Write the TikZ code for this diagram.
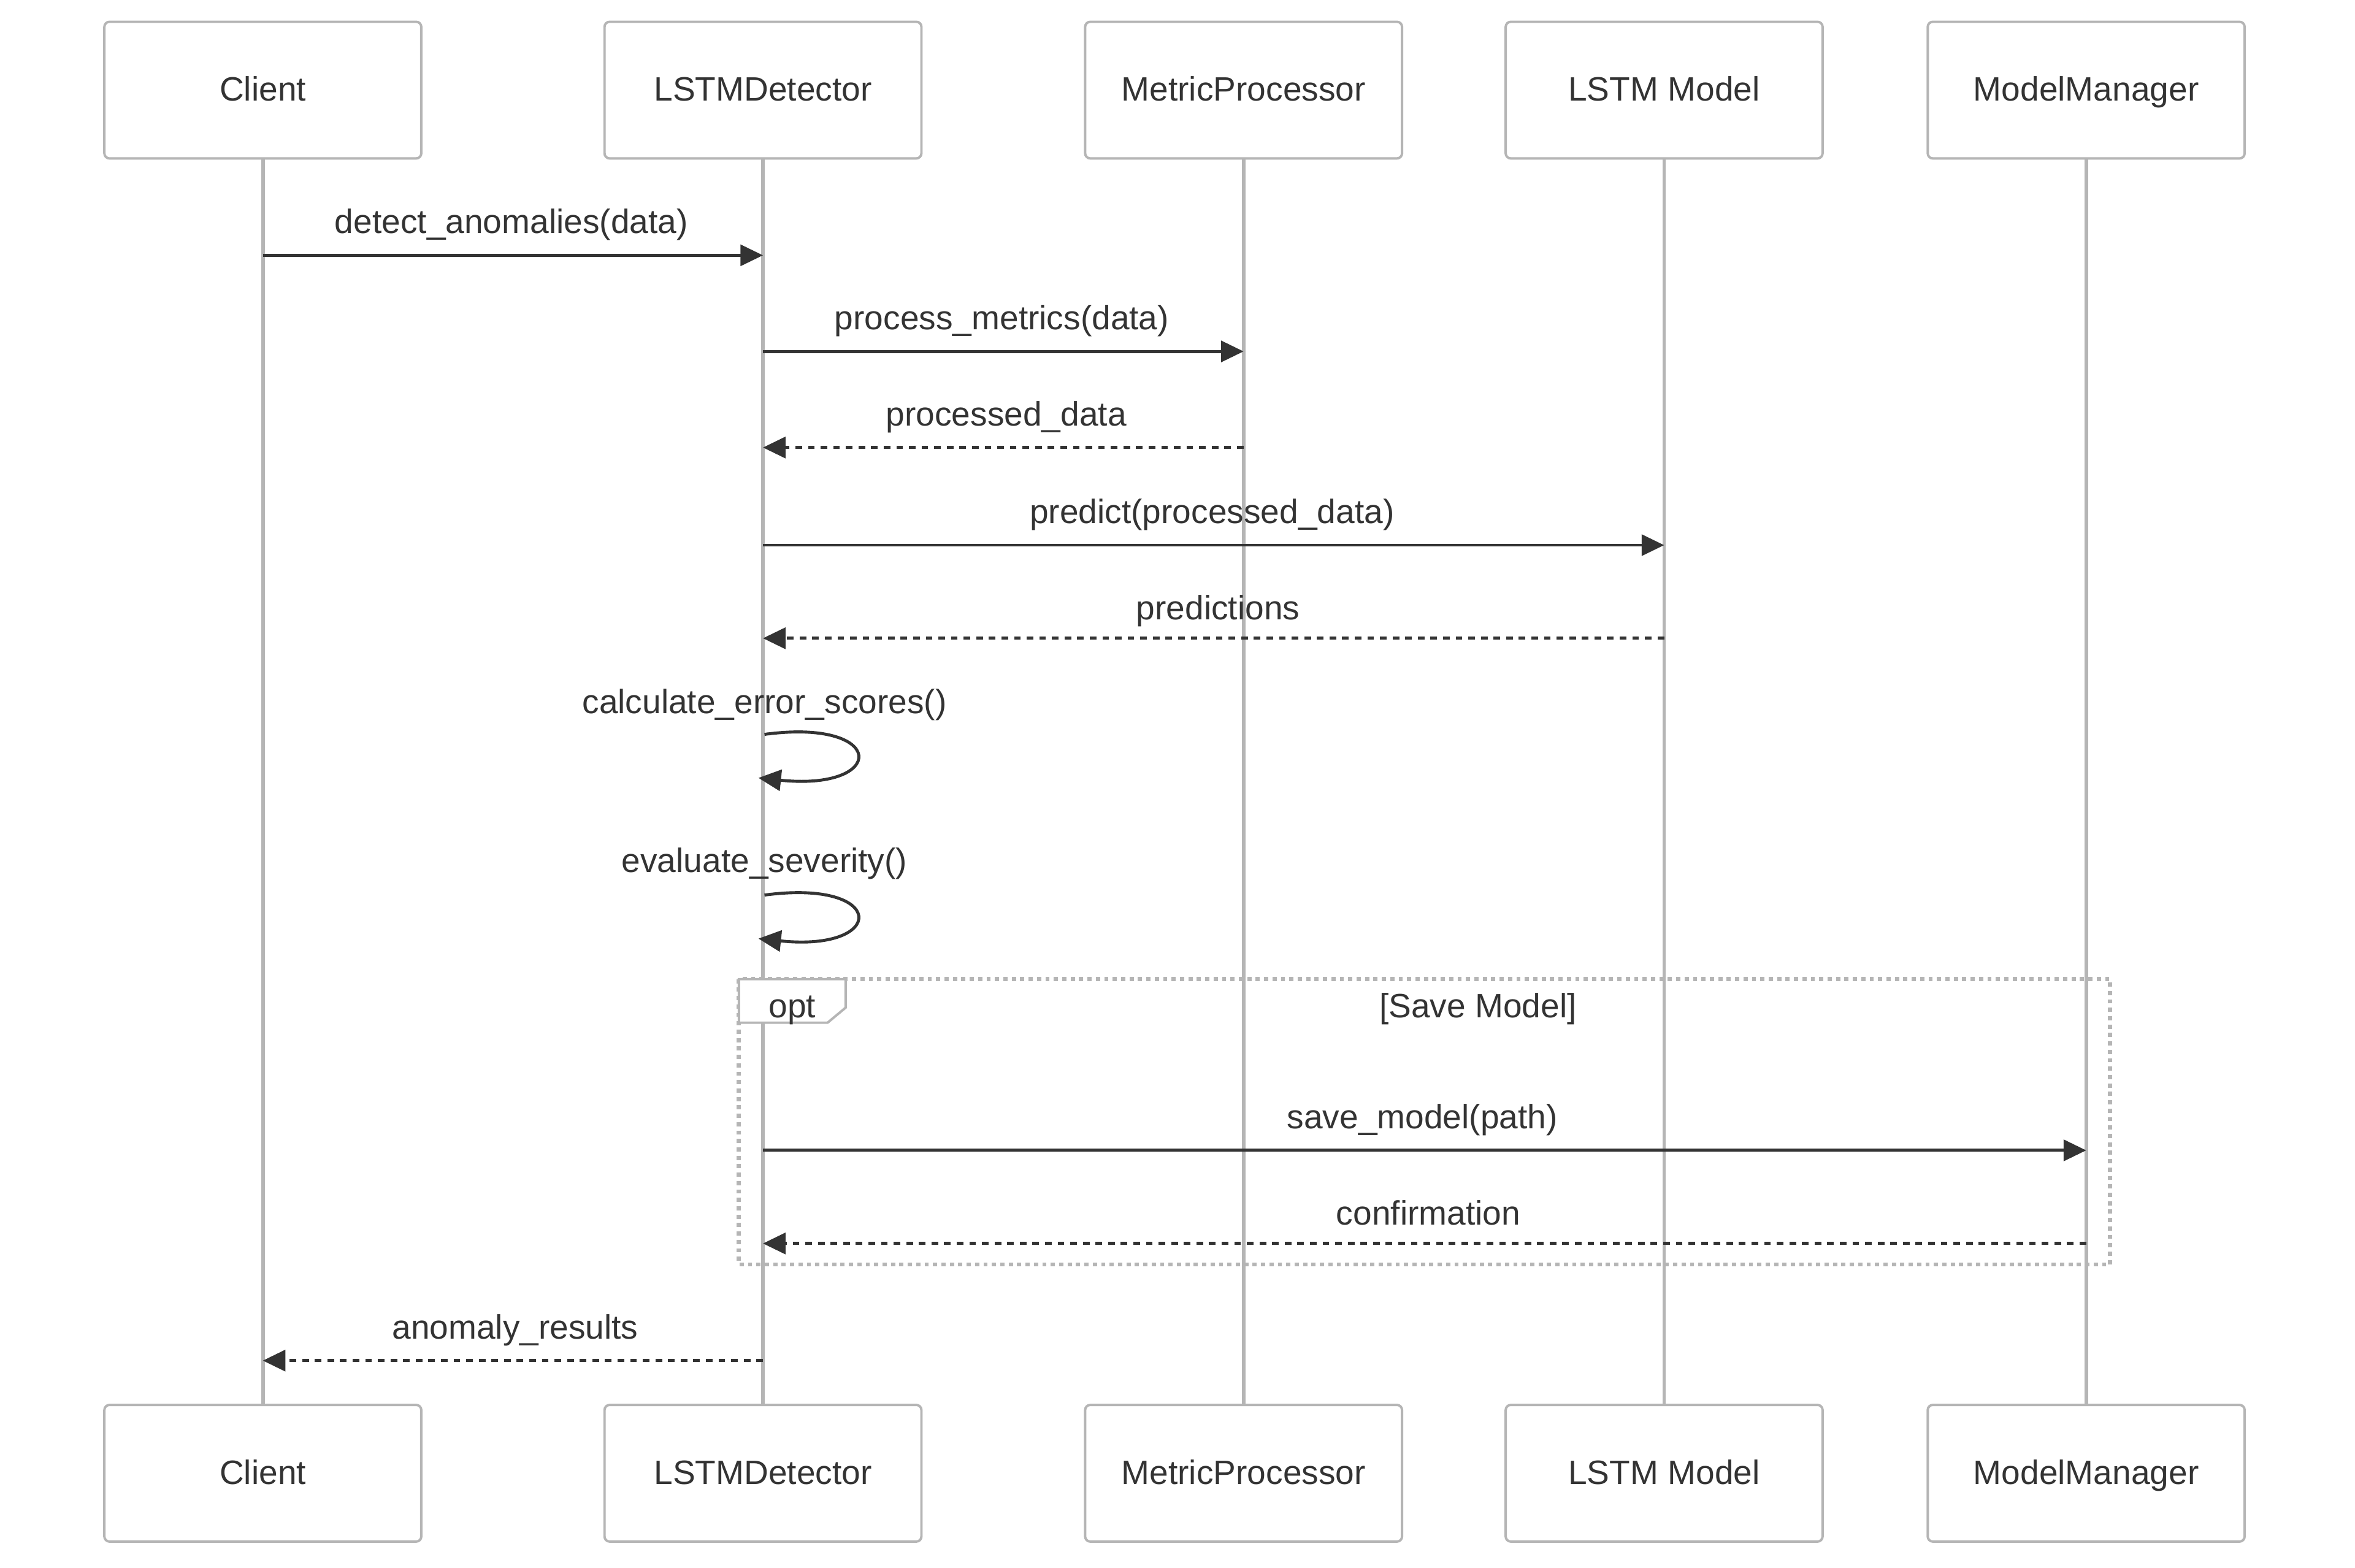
\documentclass[tikz,border=0pt]{standalone}
\usepackage{fontspec}
\setmainfont{Liberation Sans}
\usetikzlibrary{arrows.meta}
\definecolor{ink}{HTML}{333333}
\definecolor{rulegray}{HTML}{B5B5B5}
\begin{document}
\begin{tikzpicture}[x=0.5pt,y=-0.5pt,
  font=\fontsize{11.25pt}{13.5pt}\selectfont,
  actor/.style={draw=rulegray,line width=0.8pt,rounded corners=1.7pt,fill=white,
    minimum width=105.5pt,minimum height=45.5pt,inner sep=0pt,text=ink,
    text height=0.72em,text depth=0pt},
  life/.style={draw=rulegray,line width=1.2pt},
  msg/.style={draw=ink,line width=1pt,-{Triangle[length=7.5pt,width=7pt]}},
  reply/.style={msg,dash pattern=on 2.2pt off 2pt},
  lbl/.style={text=ink,anchor=base,inner sep=0pt},
  optframe/.style={draw=rulegray,line width=1.4pt,dash pattern=on 1.4pt off 1.4pt},
  opttab/.style={draw=rulegray,line width=0.8pt,fill=white}
]
\useasboundingbox (0,0) rectangle (1568,1044);

% participants, top and bottom
\node[actor] (cT) at (175,60) {Client};
\node[actor] (dT) at (508,60) {LSTMDetector};
\node[actor] (mT) at (828,60) {MetricProcessor};
\node[actor] (lT) at (1108,60) {LSTM Model};
\node[actor] (gT) at (1389,60) {ModelManager};
\node[actor] (cB) at (175,981) {Client};
\node[actor] (dB) at (508,981) {LSTMDetector};
\node[actor] (mB) at (828,981) {MetricProcessor};
\node[actor] (lB) at (1108,981) {LSTM Model};
\node[actor] (gB) at (1389,981) {ModelManager};

% lifelines
\foreach \p in {c,d,m,l,g}{
  \draw[life] (\p T.south) -- (\p B.north);
}

% optional block
\draw[optframe] (492,652) rectangle (1405,842);
\draw[opttab] (492,652) -- (563,652) -- (563,671) -- (551,681) -- (492,681) -- cycle;
\node[lbl] (optname) at (527.5,677.5) {opt};
\node[lbl] (optcond) at (984,677.5) {[Save Model]};

% message anchor points on the lifelines
\coordinate (c1) at (cT |- 0,170);  \coordinate (d1) at (dT |- 0,170);
\coordinate (d2) at (dT |- 0,234);  \coordinate (m2) at (mT |- 0,234);
\coordinate (d3) at (dT |- 0,298);  \coordinate (m3) at (mT |- 0,298);
\coordinate (d4) at (dT |- 0,363);  \coordinate (l4) at (lT |- 0,363);
\coordinate (d5) at (dT |- 0,425);  \coordinate (l5) at (lT |- 0,425);
\coordinate (s6a) at (509,489);     \coordinate (s6b) at (505,518);
\coordinate (s7a) at (509,596);     \coordinate (s7b) at (505,625);
\coordinate (d9) at (dT |- 0,766);  \coordinate (g9) at (gT |- 0,766);
\coordinate (d10) at (dT |- 0,828); \coordinate (g10) at (gT |- 0,828);
\coordinate (d11) at (dT |- 0,906); \coordinate (c11) at (cT |- 0,906);

% messages
\draw[msg] (c1) -- (d1);
\node[lbl] (t1) at (340.5,155.5) {detect\_anomalies(data)};
\draw[msg] (d2) -- (m2);
\node[lbl] (t2) at (667,219.5) {process\_metrics(data)};
\draw[reply] (m3) -- (d3);
\node[lbl] (t3) at (670,283.5) {processed\_data};
\draw[msg] (d4) -- (l4);
\node[lbl] (t4) at (807,348.5) {predict(processed\_data)};
\draw[reply] (l5) -- (d5);
\node[lbl] (t5) at (811,412.5) {predictions};

\node[lbl] (t6) at (509,475) {calculate\_error\_scores()};
\draw[msg] (s6a) .. controls (591,478) and (591,527) .. (s6b);
\node[lbl] (t7) at (509,581) {evaluate\_severity()};
\draw[msg] (s7a) .. controls (591,585) and (591,634) .. (s7b);

\draw[msg] (d9) -- (g9);
\node[lbl] (t9) at (947,751.5) {save\_model(path)};
\draw[reply] (g10) -- (d10);
\node[lbl] (t10) at (951,815.5) {confirmation};
\draw[reply] (d11) -- (c11);
\node[lbl] (t11) at (343,891.5) {anomaly\_results};
\end{tikzpicture}
\end{document}
